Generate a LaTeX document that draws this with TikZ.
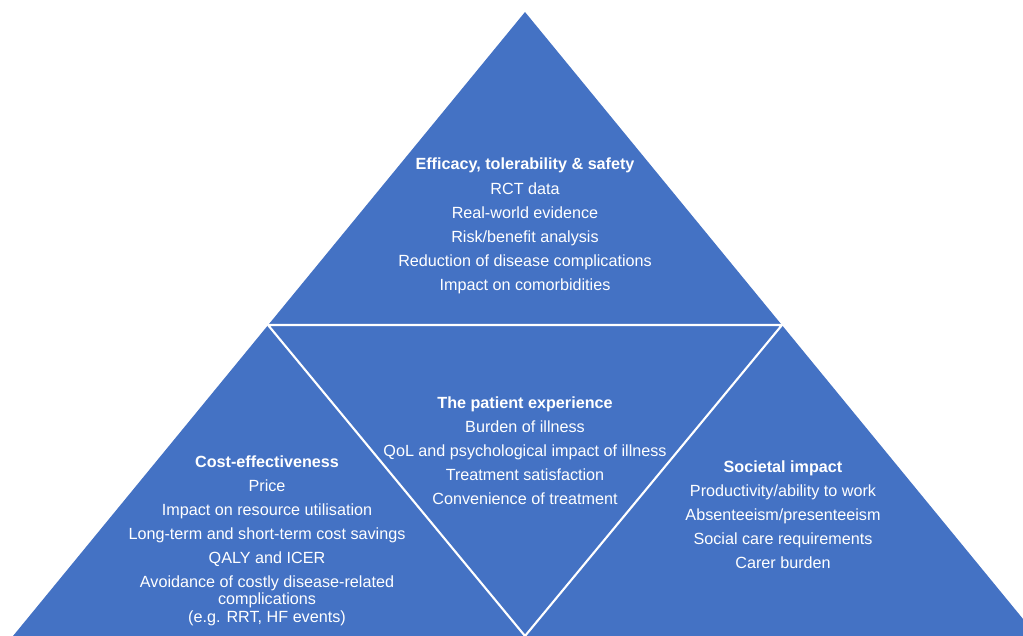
\documentclass[tikz,border=0pt]{standalone}
\usepackage{fontspec}
\setmainfont{Liberation Sans}
\usepackage{xcolor}
\definecolor{pyramidblue}{RGB}{68,114,196}

\begin{document}
\begin{tikzpicture}[x=0.025cm,y=-0.025cm]
      \tikzstyle{divider}=[draw=white,line width=1.5pt]
      \tikzstyle{every node}=[text=white,align=center,anchor=north,inner sep=0pt,font=\fontsize{11.5}{12.5}\selectfont]
      \useasboundingbox (0,0) rectangle (1023,636);
      \clip (0,0) rectangle (1023,636);
      \coordinate (apex) at (525,12);
      \coordinate (baseL) at (13,636);
      \coordinate (baseR) at (1037,636);
      \coordinate (midL) at (268,325);
      \coordinate (midR) at (782,325);
      \coordinate (bottom) at (525,636);
      \fill[pyramidblue] (apex) -- (baseL) -- (baseR) -- cycle;
      \draw[divider] (midL) -- (midR) -- (bottom) -- cycle;
      \node (efficacy) at (525,158) {\textbf{Efficacy, tolerability \& safety}\\[4.6pt]
        RCT data\\[4.6pt] Real-world evidence\\[4.6pt] Risk/benefit analysis\\[4.6pt]
        Reduction of disease complications\\[4.6pt] Impact on comorbidities};
      \node (patient) at (525,396) {\textbf{The patient experience}\\[4.6pt]
        Burden of illness\\[4.6pt] QoL and psychological impact of illness\\[4.6pt]
        Treatment satisfaction\\[4.6pt] Convenience of treatment};
      \node (cost) at (267,455) {\textbf{Cost-effectiveness}\\[4.6pt]
        Price\\[4.6pt] Impact on resource utilisation\\[4.6pt]
        Long-term and short-term cost savings\\[4.6pt] QALY and ICER\\[4.6pt]
        Avoidance of costly disease-related\\ complications\\ (e.g. RRT, HF events)};
      \node (societal) at (783,460) {\textbf{Societal impact}\\[4.6pt]
        Productivity/ability to work\\[4.6pt] Absenteeism/presenteeism\\[4.6pt]
        Social care requirements\\[4.6pt] Carer burden};
\end{tikzpicture}
\end{document}
